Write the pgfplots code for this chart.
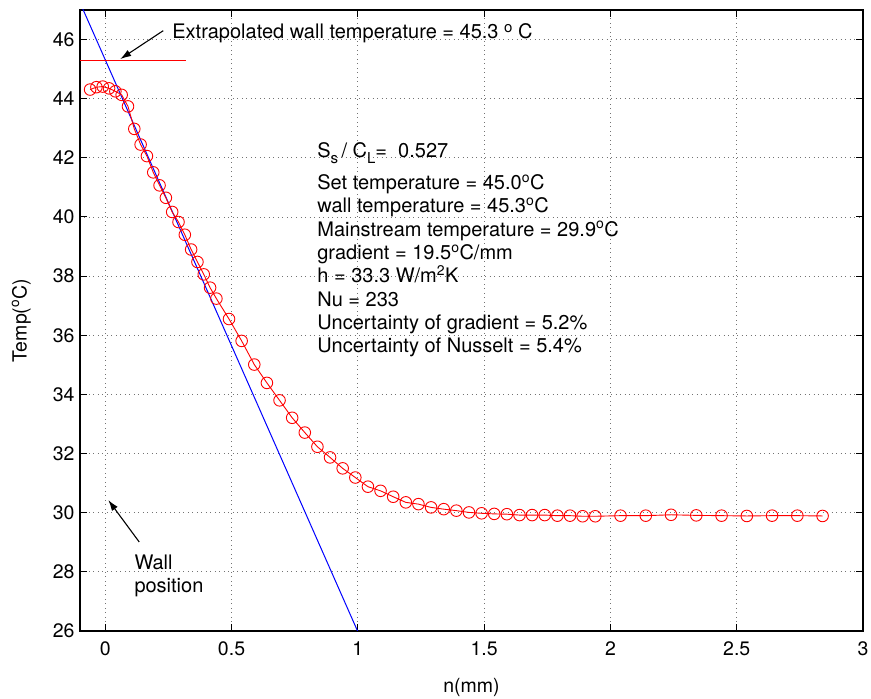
\documentclass[border=0pt]{standalone}
\usepackage{pgfplots}
\pgfplotsset{compat=1.18}
\usepackage{fontspec}
\setmainfont{TeX Gyre Heros}
\usetikzlibrary{arrows.meta}
\begin{document}
\begin{tikzpicture}[x=1pt,y=1pt]
\path[use as bounding box] (-80,-68) rectangle (791,631);
\begin{axis}[
  at={(0,0)}, anchor=south west,
  scale only axis, width=783pt, height=621pt,
  xmin=-0.1, xmax=3, ymin=26, ymax=47,
  xtick={0,0.5,1,1.5,2,2.5,3},
  xticklabels={0,0.5,1,1.5,2,2.5,3},
  ytick={26,28,30,32,34,36,38,40,42,44,46},
  yticklabels={26,28,30,32,34,36,38,40,42,44,46},
  tick align=inside, major tick length=7pt,
  tick style={black, line width=1pt},
  axis line style={black, line width=1.3pt},
  grid=major,
  major grid style={black!55, line width=0.9pt, dash pattern=on 0.9pt off 3.6pt},
  ticklabel style={font=\fontsize{19.5}{20}\selectfont},
  xticklabel style={yshift=-7pt},
  yticklabel style={xshift=-2pt},
  label style={font=\fontsize{19.5}{20}\selectfont},
  xlabel={n(mm)},
  ylabel={Temp(\textsuperscript{o}C)},
  xlabel style={at={(axis description cs:0.5,0)}, anchor=center, yshift=-56pt},
  ylabel style={at={(axis description cs:-0.075,0.5)}, anchor=center},
  clip=true,
]
% fitted wall gradient line
\addplot[blue, line width=1pt] coordinates {(-0.1,47.25) (1.05,25.01)};
% extrapolated wall temperature
\addplot[red, line width=1.4pt] coordinates {(-0.1,45.3) (0.32,45.3)};
% measured profile
\addplot[red, line width=0.9pt, mark=o, mark size=5.8pt, mark options={line width=0.9pt}] coordinates {
(-0.06,44.31) (-0.035,44.39) (-0.01,44.41) (0.015,44.35) (0.04,44.25) (0.065,44.13)
(0.09,43.74) (0.115,42.98) (0.14,42.45) (0.165,42.06) (0.19,41.51) (0.215,41.07)
(0.24,40.65) (0.265,40.17) (0.29,39.83) (0.315,39.40) (0.34,38.90) (0.365,38.48)
(0.39,38.06) (0.415,37.61) (0.44,37.24)
(0.49,36.55) (0.54,35.81) (0.59,35.01) (0.64,34.39) (0.69,33.80) (0.74,33.21)
(0.79,32.71) (0.84,32.23) (0.89,31.87) (0.94,31.50) (0.99,31.19) (1.04,30.88)
(1.09,30.74) (1.14,30.54) (1.19,30.35) (1.24,30.29) (1.29,30.18) (1.34,30.12)
(1.39,30.07) (1.44,30.01) (1.49,29.98) (1.54,29.96) (1.59,29.95) (1.64,29.92)
(1.69,29.92) (1.74,29.92) (1.79,29.90) (1.84,29.90) (1.89,29.88) (1.94,29.88)
(2.04,29.90) (2.14,29.90) (2.24,29.93) (2.34,29.91) (2.44,29.90) (2.54,29.89)
(2.64,29.90) (2.74,29.90) (2.84,29.89)
};
% annotations
\draw[black, line width=1.1pt, -{Latex[length=11pt,width=7pt]}] (axis cs:0.2295,46.30) -- (axis cs:0.0594,45.34);
\draw[black, line width=1.1pt, -{Latex[length=11pt,width=7pt]}] (axis cs:0.1345,29.01) -- (axis cs:0.0119,30.43);
\begin{scope}[every node/.style={inner sep=0pt, anchor=base west, font=\fontsize{20}{22}\selectfont}]
\node at (axis cs:0.265,46.02) {Extrapolated wall temperature = 45.3 \raisebox{0.6ex}{\fontsize{15}{15}\selectfont o} C};
\node at (axis cs:0.115,28.08) {Wall};
\node at (axis cs:0.115,27.30) {position};
\node at (axis cs:0.839,42.00) {S\raisebox{-0.55ex}{\fontsize{15}{15}\selectfont s}\,/ C\raisebox{-0.55ex}{\fontsize{15}{15}\selectfont L}=~ 0.527};
\node at (axis cs:0.839,40.92) {Set temperature = 45.0\textsuperscript{o}C};
\node at (axis cs:0.839,40.14) {wall temperature = 45.3\textsuperscript{o}C};
\node at (axis cs:0.839,39.35) {Mainstream temperature = 29.9\textsuperscript{o}C};
\node at (axis cs:0.839,38.56) {gradient = 19.5\textsuperscript{o}C/mm};
\node at (axis cs:0.839,37.77) {h = 33.3 W/m\textsuperscript{2}K};
\node at (axis cs:0.839,36.99) {Nu = 233};
\node at (axis cs:0.839,36.20) {Uncertainty of gradient = 5.2\%};
\node at (axis cs:0.839,35.41) {Uncertainty of Nusselt = 5.4\%};
\end{scope}
\end{axis}
\end{tikzpicture}
\end{document}
